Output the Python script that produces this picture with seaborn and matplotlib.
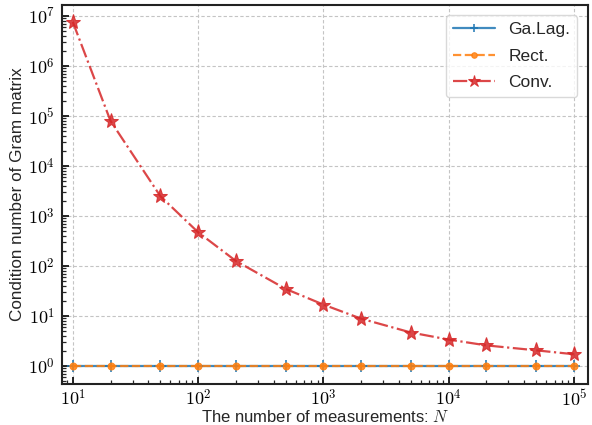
import numpy as np
import pandas as pd
import matplotlib
matplotlib.use("Agg")
import matplotlib.pyplot as plt
import matplotlib.ticker as mticker
import seaborn as sns

N = [10, 20, 50, 100, 200, 500, 1000, 2000, 5000, 10000, 20000, 50000, 100000]
galag = [1, 1, 1, 1, 1, 1, 1, 1, 1, 1, 1, 1, 1]
rect = [1, 1, 1, 1, 1, 1, 1, 1, 1, 1, 1, 1, 1]
conv = [7.6e6, 8.0e4, 2.5e3, 475, 127, 35, 17, 8.9, 4.7, 3.4, 2.6, 2.07, 1.73]
xticks = [1e1, 1e2, 1e3, 1e4, 1e5]
yticks = [1e0, 1e1, 1e2, 1e3, 1e4, 1e5, 1e6, 1e7]

sns.set_theme(style="white")
plt.rcParams['font.family'] = ['Liberation Sans', 'DejaVu Sans']
plt.rcParams['mathtext.fontset'] = 'cm'

fig = plt.figure(figsize=(5.92, 4.25), dpi=100)
ax = fig.add_axes([0.1047, 0.0965, 0.8883, 0.8918])

df = pd.DataFrame({"N": N, "Ga.Lag.": galag, "Rect.": rect, "Conv.": conv})

sns.lineplot(data=df, x="N", y="Ga.Lag.", ax=ax, color="#1f77b4", linestyle="-",
             linewidth=1.6, marker="+", markersize=8, markeredgewidth=1.3,
             markeredgecolor="#1f77b4", label="Ga.Lag.", alpha=0.85)
sns.lineplot(data=df, x="N", y="Rect.", ax=ax, color="#ff7f0e", linestyle="--",
             linewidth=1.6, marker="o", markersize=5, markeredgecolor="#ff7f0e",
             label="Rect.", alpha=0.85)
sns.lineplot(data=df, x="N", y="Conv.", ax=ax, color="#d62728", linestyle="-.",
             linewidth=1.6, marker="*", markersize=11, markeredgecolor="#d62728",
             label="Conv.", alpha=0.85)

ax.set_xscale("log")
ax.set_yscale("log")
ax.set_xlim(8.2, 1.29e5)
ax.set_ylim(0.44, 1.66e7)

fmt = mticker.FuncFormatter(lambda v, p: r"$10^{%d}$" % int(round(np.log10(v))))
ax.xaxis.set_major_locator(mticker.FixedLocator(xticks))
ax.yaxis.set_major_locator(mticker.FixedLocator(yticks))
ax.xaxis.set_major_formatter(fmt)
ax.yaxis.set_major_formatter(fmt)
ax.xaxis.set_minor_locator(mticker.LogLocator(base=10, subs=np.arange(2, 10), numticks=15))
ax.yaxis.set_minor_locator(mticker.LogLocator(base=10, subs=np.arange(2, 10), numticks=15))
ax.xaxis.set_minor_formatter(mticker.NullFormatter())
ax.yaxis.set_minor_formatter(mticker.NullFormatter())

ax.grid(True, which="major", linestyle=(0, (3, 2)), color="#c4c4c4", linewidth=0.8)
ax.tick_params(which="both", direction="in", bottom=True, left=True, top=False, right=False)
ax.tick_params(which="major", length=5, width=1.2, labelsize=13, colors="black", pad=5)
ax.tick_params(axis="x", which="major", pad=3.5)
ax.tick_params(which="minor", length=3, width=0.9)
for s in ax.spines.values():
    s.set_color("#222222")
    s.set_linewidth(1.5)

ax.set_xlabel("The number of measurements: $N$", fontsize=12, labelpad=0)
ax.set_ylabel("Condition number of Gram matrix", fontsize=12.3, labelpad=2)

leg = ax.legend(loc="upper right", fontsize=12.5, frameon=True, fancybox=True,
                handlelength=2.4, borderaxespad=0.6, labelspacing=0.65,
                markerscale=0.8)
leg.get_frame().set_edgecolor("#d0d0d0")

fig.savefig("out.png", dpi=100)
